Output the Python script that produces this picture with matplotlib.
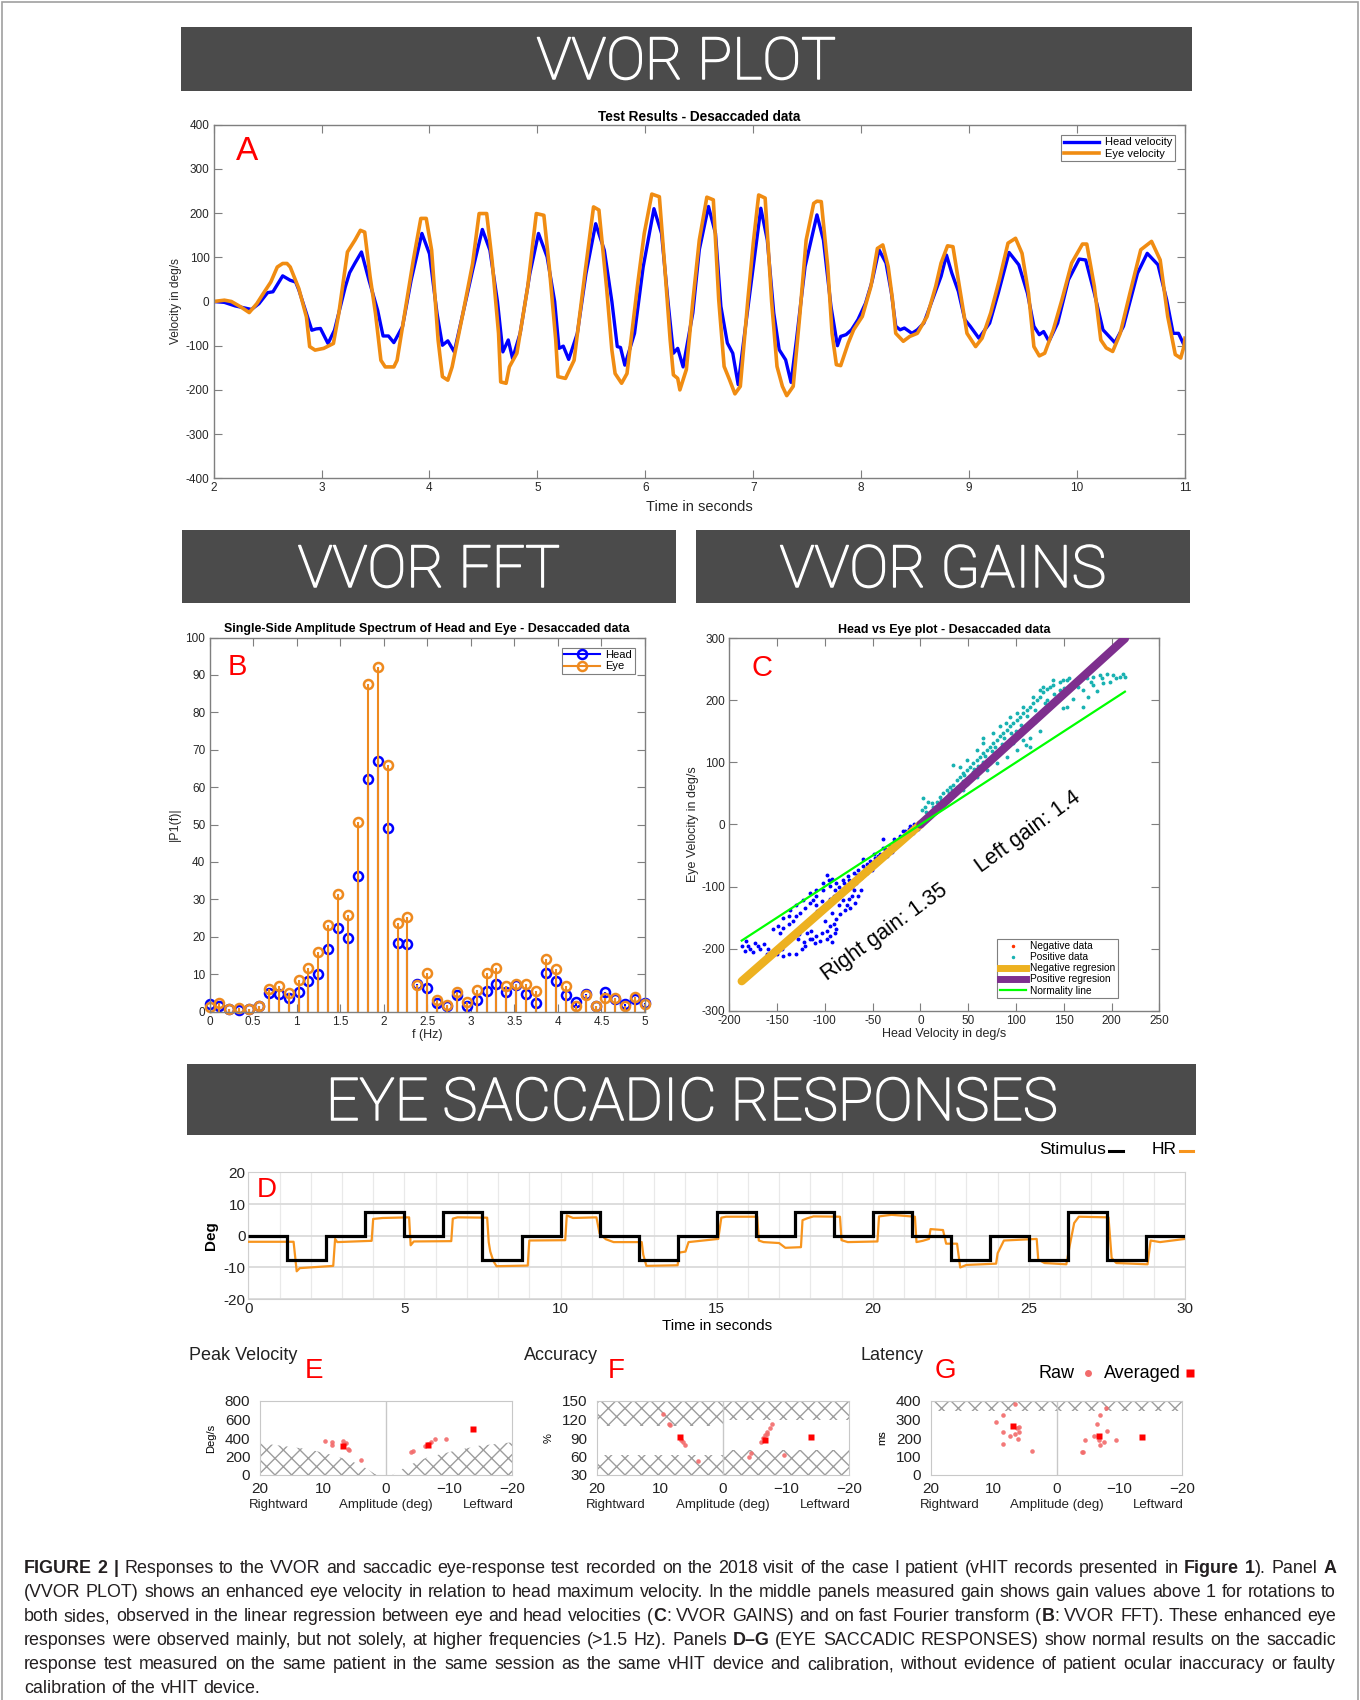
import matplotlib.pyplot as plt
import matplotlib.patheffects as pe
import numpy as np
from matplotlib import font_manager
from matplotlib.lines import Line2D
from matplotlib.patches import Rectangle
from matplotlib.ticker import FormatStrFormatter

W, H = 1360, 1700

# ---------------- VVOR plot: head / eye velocity (deg/s) ----------------
head_t = [2.00, 2.10, 2.20, 2.35, 2.42, 2.50, 2.55, 2.64, 2.71, 2.76, 2.79, 2.86, 2.91, 2.95, 2.99,
          3.06, 3.12, 3.22, 3.26, 3.31, 3.37, 3.44, 3.52, 3.57, 3.62, 3.67, 3.75, 3.83, 3.93, 4.00,
          4.07, 4.12, 4.17, 4.23, 4.31, 4.40, 4.49, 4.56, 4.63, 4.68, 4.73, 4.77, 4.84, 4.93, 5.01,
          5.09, 5.16, 5.20, 5.24, 5.29, 5.37, 5.45, 5.54, 5.62, 5.69, 5.74, 5.77, 5.81, 5.90, 5.98,
          6.08, 6.15, 6.21, 6.26, 6.30, 6.35, 6.44, 6.50, 6.585, 6.65, 6.70, 6.76, 6.81, 6.86, 6.92,
          7.00, 7.07, 7.13, 7.19, 7.24, 7.30, 7.35, 7.40, 7.48, 7.53, 7.59, 7.65, 7.72, 7.78, 7.81,
          7.86, 7.91, 7.97, 8.04, 8.10, 8.165, 8.23, 8.28, 8.32, 8.36, 8.40, 8.47, 8.52, 8.58, 8.66,
          8.74, 8.79, 8.84, 8.90, 8.96, 9.01, 9.09, 9.19, 9.27, 9.37, 9.46, 9.54, 9.60, 9.65, 9.69,
          9.74, 9.82, 9.92, 10.02, 10.08, 10.16, 10.24, 10.35, 10.43, 10.56, 10.65, 10.75, 10.83,
          10.89, 10.94, 10.99, 11.00]
head_v = [0, -2, -10, -18, -5, 20, 22, 58, 48, 44, 26, -27, -65, -62, -61,
          -95, -65, 33, 65, 87, 112, 48, -20, -78, -78, -93, -57, 48, 154, 108,
          -27, -99, -89, -114, -27, 71, 163, 116, 0, -114, -87, -129, -72, 63, 154,
          101, 0, -106, -101, -131, -72, 63, 176, 116, 0, -102, -104, -144, -72, 78,
          210, 154, 0, -117, -106, -148, -26, 117, 215, 154, -11, -94, -117, -188, -72,
          79, 211, 139, -26, -109, -132, -183, -87, 79, 132, 196, 139, -11, -100, -79,
          -75, -64, -41, -4, 45, 117, 87, 19, -56, -64, -60, -72, -64, -49, 4,
          57, 105, 64, 23, -41, -56, -83, -49, 19, 111, 83, 19, -56, -75, -68,
          -90, -49, 49, 96, 94, 19, -64, -93, -56, 64, 109, 83, 4,
          -72, -72, -98, -95]

eye_t = [2.00, 2.10, 2.165, 2.25, 2.33, 2.40, 2.46, 2.53, 2.59, 2.64, 2.68, 2.71, 2.79, 2.86, 2.89,
         2.94, 3.02, 3.11, 3.16, 3.24, 3.31, 3.36, 3.40, 3.45, 3.50, 3.55, 3.59, 3.67, 3.70, 3.79,
         3.85, 3.92, 3.97, 4.02, 4.08, 4.12, 4.17, 4.21, 4.31, 4.40, 4.46, 4.53, 4.58, 4.64, 4.66,
         4.71, 4.74, 4.81, 4.91, 4.99, 5.06, 5.11, 5.17, 5.19, 5.26, 5.34, 5.44, 5.52, 5.57, 5.64,
         5.69, 5.72, 5.78, 5.83, 5.93, 5.99, 6.06, 6.13, 6.18, 6.23, 6.26, 6.30, 6.32, 6.38, 6.44,
         6.50, 6.57, 6.63, 6.68, 6.73, 6.78, 6.83, 6.88, 6.95, 7.00, 7.05, 7.11, 7.17, 7.22, 7.27,
         7.31, 7.37, 7.43, 7.49, 7.56, 7.59, 7.63, 7.69, 7.73, 7.77, 7.81, 7.88, 7.93, 8.01, 8.09,
         8.15, 8.20, 8.25, 8.29, 8.32, 8.39, 8.45, 8.52, 8.61, 8.69, 8.74, 8.80, 8.85, 8.90, 8.98,
         9.06, 9.12, 9.20, 9.28, 9.36, 9.43, 9.49, 9.55, 9.60, 9.65, 9.70, 9.78, 9.86, 9.95, 10.05,
         10.09, 10.16, 10.22, 10.27, 10.33, 10.40, 10.49, 10.59, 10.69, 10.77, 10.84, 10.91, 10.96,
         10.99, 11.00]
eye_v = [0, 3, 0, -12, -25, -5, 18, 44, 78, 86, 86, 78, 29, -35, -102,
         -110, -106, -95, -27, 112, 139, 161, 157, 56, -27, -133, -148, -148, -133, 3,
         93, 188, 188, 116, -87, -170, -178, -148, -27, 86, 199, 199, 93, -72, -182,
         -185, -148, -117, 33, 199, 195, 78, -87, -170, -174, -133, 63, 214, 207, 34,
         -110, -163, -185, -163, 41, 154, 243, 237, 78, -87, -166, -174, -200, -154, 0,
         139, 236, 230, 4, -147, -177, -209, -192, 4, 132, 241, 234, 0, -147, -192,
         -213, -192, -34, 139, 222, 227, 226, 79, -72, -143, -145, -94, -64, -34, 34,
         120, 128, 79, 4, -72, -90, -79, -72, -34, 34, 87, 126, 124, 49, -72,
         -102, -83, -26, 49, 132, 143, 109, 19, -102, -123, -117, -64, 4, 87, 130,
         130, 34, -87, -105, -113, -72, 19, 117, 136, 94, -34, -120, -128,
         -102, -83]

# ---------------- VVOR FFT: single-side amplitude spectrum ----------------
fft_freq = [0.000, 0.114, 0.227, 0.341, 0.455, 0.568, 0.682, 0.795, 0.909, 1.023, 1.136, 1.250,
            1.364, 1.477, 1.591, 1.705, 1.818, 1.932, 2.045, 2.159, 2.273, 2.386, 2.500, 2.614,
            2.727, 2.841, 2.955, 3.068, 3.182, 3.295, 3.409, 3.523, 3.636, 3.750, 3.864, 3.977,
            4.091, 4.205, 4.318, 4.432, 4.545, 4.659, 4.773, 4.886, 5.000]
fft_head = [2.0, 1.5, 0.8, 0.4, 0.8, 1.5, 4.9, 4.6, 3.6, 5.2, 8.2, 10.0, 16.8, 22.4, 19.7,
            36.2, 62.1, 67.0, 49.0, 18.4, 18.0, 7.3, 6.4, 2.4, 1.5, 4.4, 1.5, 3.1, 5.5, 7.3,
            5.2, 7.1, 4.6, 2.4, 10.2, 8.2, 4.4, 2.6, 4.8, 1.5, 5.1, 3.3, 2.0, 3.3, 2.2]
fft_eye = [1.1, 2.2, 0.8, 1.0, 0.8, 1.5, 6.0, 6.8, 4.9, 8.4, 11.6, 15.9, 23.0, 31.5, 25.7,
           50.6, 87.6, 92.1, 65.8, 23.6, 25.4, 7.1, 10.2, 3.0, 1.7, 5.2, 2.6, 5.8, 10.2, 11.6,
           6.8, 7.3, 7.3, 5.5, 14.0, 11.3, 6.7, 1.5, 4.4, 1.5, 3.6, 3.6, 1.5, 4.0, 2.0]

# ---------------- VVOR gains: head vs eye velocity ----------------
neg_head = [-187, -182, -178, -173, -168, -164, -184, -161, -156, -150, -144, -137, -130, -124, -121,
            -147, -144, -138, -133, -130, -126, -121, -116, -112, -109,
            -119, -114, -109, -103, -98, -95, -89, -88, -95, -100, -105, -110, -116,
            -98, -96, -102, -95, -89, -84, -81, -77, -74, -79, -84, -88, -93, -98, -103, -109, -105,
            -88, -81, -76, -70, -65, -60, -56, -53, -48, -42, -37, -32, -27, -21, -16, -11, -7,
            -67, -62, -56, -51, -46, -41, -35, -30, -25, -20, -14, -9, -65, -62, -68, -72,
            -60, -49, -39, -28, -18, -109, -116, -123, -130, -136, -144, -149, -154, -138,
            -5, -3, -12, -8, -39, -30,
            -180, -175, -170, -160, -155, -145, -140, -135, -128, -125, -118, -112, -108, -100,
            -95, -90, -85, -80, -75, -72, -66, -58, -52, -45, -40, -34, -28, -22, -15, -10,
            -92, -98, -90, -85, -70, -75, -60, -50, -44, -113, -122, -127, -102, -93]
neg_eye = [-196, -188, -201, -191, -201, -193, -204, -209, -212, -209, -212, -208, -209, -201, -196,
           -175, -166, -161, -156, -148, -142, -134, -126, -121, -115,
           -175, -172, -180, -175, -172, -180, -175, -169, -164, -156, -188, -191, -185,
           -81, -89, -105, -99, -105, -110, -121, -129, -134, -137, -145, -153, -142, -129, -124, -129, -140,
           -94, -89, -83, -78, -73, -67, -64, -59, -54, -48, -40, -35, -27, -19, -11, -3, 0,
           -94, -86, -78, -73, -64, -56, -51, -43, -35, -24, -19, -11, -115, -105, -126, -115,
           -56, -48, -38, -24, -11, -105, -110, -121, -129, -137, -150, -164, -169, -148,
           -3, -8, -8, -14, -23, -45,
           -195, -205, -196, -200, -205, -200, -190, -180, -185, -170, -160, -150, -140, -130,
           -120, -115, -100, -95, -90, -100, -82, -72, -68, -58, -50, -44, -35, -28, -16, -8,
           -190, -185, -160, -130, -105, -120, -80, -60, -50, -184, -190, -176, -95, -88]

pos_head = [1.3, 4.8, 10, 13.5, 17, 3, 8.2, 20.5, 24, 27.4, 31, 34.4, 32.7, 27.4, 38, 41.4, 44.9,
            48.4, 34.4, 51.8, 55.3, 58.8, 62.3, 65.8, 69.3, 72.8, 76.3, 79.8, 83.2, 86.7, 90.2, 93.7,
            97.2, 100.7, 104.2, 107.7, 111.1, 114.6, 118.1, 121.6, 125.1, 128.6, 132, 135.6, 139, 146,
            153, 160, 167, 174, 181, 188, 195, 202, 209, 214, 191, 198, 160, 153, 149.5, 170.4, 181,
            48.4, 58.8, 69.3, 79.8, 90.2, 100.7, 111, 114.6, 107.7, 97, 83, 72.8, 62.3, 51.8, 41.4,
            44.9, 31, 58.8, 65.8, 76.3, 90, 100.7, 107.7, 118, 128.6, 139, 149.5, 156, 41.4, 48.4,
            65.8, 83.2, 93.7, 125, 146, 132,
            20, 25, 35, 45, 55, 60, 68, 75, 85, 95, 105, 112, 120, 130, 140, 150, 165, 178, 190,
            205, 212, 170, 175, 185, 115, 125, 120, 100, 88, 78, 66, 56, 46, 38, 30, 22, 15, 12, 6]
pos_eye = [23, 29, 18, 29, 37, 42, 37, 45, 50, 56, 61, 64, 56, 45, 72, 77, 83,
           88, 96, 93, 99, 104, 109, 115, 120, 125, 131, 136, 142, 147, 152, 158,
           163, 168, 174, 179, 184, 190, 195, 201, 206, 214, 219, 222, 225, 230,
           233, 228, 233, 236, 238, 241, 243, 241, 238, 238, 228, 230, 203, 190, 187, 217, 225,
           66, 77, 88, 99, 109, 120, 128, 125, 136, 131, 115, 99, 88, 77, 61,
           56, 45, 120, 131, 147, 163, 179, 190, 206, 222, 233, 233, 236, 93, 104,
           139, 158, 174, 217, 217, 201,
           30, 38, 52, 70, 85, 95, 110, 118, 130, 148, 160, 175, 185, 195, 210, 220, 222, 230, 236,
           236, 243, 190, 205, 215, 140, 150, 165, 150, 140, 125, 100, 90, 80, 60, 50, 40, 25, 35, 20]

right_gain = 1.35
left_gain = 1.4

# ---------------- Saccade test: stimulus and head response (deg) ----------------
stim_edges = [0, 1.25, 2.5, 3.75, 5, 6.25, 7.5, 8.75, 10, 11.25, 12.5, 13.75, 15, 16.25, 17.5,
              18.75, 20, 21.25, 22.5, 23.75, 25, 26.25, 27.5, 28.75, 30]
stim_level = [0, -7.5, 0, 7.5, 0, 7.5, -7.5, 0, 7.5, 0, -7.5, 0, 7.5, 0, 7.5, 0, 7.5, 0,
              -7.5, 0, -7.5, 7.5, -7.5, 0]
hr_t = [0, 1.45, 1.55, 1.65, 2.72, 2.78, 2.85, 3.95, 4.0, 4.3, 5.15, 5.2, 5.3, 6.5, 6.55, 6.7,
        7.65, 7.7, 7.75, 7.85, 7.95, 8.95, 9.0, 10.15, 10.2, 10.4, 11.15, 11.25, 11.45, 11.7,
        12.6, 12.65, 12.75, 13.75, 13.8, 14.0, 14.1, 15.05, 15.15, 15.3, 16.3, 16.35, 16.5, 17.0,
        17.2, 17.7, 17.75, 17.9, 18.1, 18.95, 19.0, 19.2, 20.15, 20.2, 20.6, 21.35, 21.4, 21.6,
        21.8, 21.85, 22.25, 22.35, 22.7, 22.8, 23.0, 23.95, 24.0, 24.2, 25.25, 25.3, 25.5, 26.2,
        26.3, 26.45, 26.6, 27.55, 27.65, 27.8, 28.8, 28.9, 29.2, 30]
hr_v = [-1.9, -1.9, -11.2, -10.2, -9.5, -1.0, -2.0, -1.6, 5.3, 5.6, 5.8, -3.0, -1.8, -1.7, 5.4, 5.8,
        5.7, -2.0, -5.0, -8.0, -9.6, -9.4, -1.5, -1.4, 6.4, 5.6, 5.8, 0.7, -1.1, -2.0,
        -2.0, -6.0, -9.5, -9.3, -5.3, -5.0, -2.0, -1.0, 5.7, 6.0, 6.0, -1.5, -2.0, -2.3,
        -3.8, -3.6, 4.9, 5.5, 6.1, 6.0, -1.4, -2.0, -1.8, 6.1, 6.6, 6.0, -2.0, -1.6,
        -1.0, 2.1, 1.8, -2.5, -2.5, -10.0, -9.2, -8.8, -5.5, -1.5, -1.0, -7.5, -8.6, -9.0,
        -3.5, 4.0, 6.0, 5.8, -7.0, -8.6, -9.0, -1.5, -2.0, -1.0]

# ---------------- Saccade metrics vs amplitude ----------------
pv_raw_amp = [9.7, 8.5, 8.5, 6.8, 6.6, 6.3, 6.1, 5.9, 3.9, -3.9, -4.3, -6.2, -7.2, -7.8, -9.6, -6.6]
pv_raw_val = [371, 360, 327, 371, 335, 342, 280, 269, 164, 247, 255, 316, 356, 385, 389, 335]
pv_avg_amp = [6.8, -6.6, -13.8]
pv_avg_val = [309, 327, 495]
pv_floor_right_amp = [20, 12.4, 8.0, 4.2, 1.5]
pv_floor_right_val = [345, 280, 207, 116, 0]
pv_floor_left_amp = [-1.0, -3.4, -6.5, -10.9, -14.7, -20]
pv_floor_left_val = [0, 98, 189, 262, 316, 353]

acc_raw_amp = [9.6, 8.5, 8.4, 6.9, 6.6, 6.3, 6.0, 3.9, -4.2, -4.5, -6.1, -6.4, -6.7, -7.0, -7.5, -7.8,
               -7.0, -9.7]
acc_raw_val = [129, 113, 111, 91, 87, 83, 79, 52, 60, 65, 84, 90, 95, 100, 107, 112, 97, 63]
acc_avg_amp = [6.9, -6.7, -13.9]
acc_avg_val = [92, 87, 92]
acc_limits_right = (63, 109)   # normal band, rightward saccades (%)
acc_limits_left = (70, 119)    # normal band, leftward saccades (%)

lat_raw_amp = [6.6, 8.5, 9.7, 5.9, 6.3, 8.6, 5.9, 6.6, 7.4, 6.2, 8.5, 3.9,
               -7.9, -7.0, -6.4, -8.1, -5.9, -4.6, -6.8, -7.6, -9.5, -7.0, -4.0, -4.3]
lat_raw_val = [382, 322, 284, 258, 255, 231, 231, 222, 211, 195, 165, 131,
               364, 324, 276, 236, 211, 191, 191, 178, 191, 160, 127, 127]
lat_avg_amp = [7.0, -6.7, -13.7]
lat_avg_val = [264, 213, 207]
lat_limit = 344

# ---------------- fonts and colours ----------------
installed = {f.name for f in font_manager.fontManager.ttflist}
NARROW = 'Liberation Sans Narrow' if 'Liberation Sans Narrow' in installed else 'Liberation Sans'
NARROW_LIST = [NARROW, 'DejaVu Sans']
HEADER_FONT = ['Roboto', 'DejaVu Sans'] if 'Roboto' in installed else ['DejaVu Sans']

plt.rcParams['font.family'] = ['Liberation Sans', 'DejaVu Sans']
plt.rcParams['axes.unicode_minus'] = False
plt.rcParams['hatch.linewidth'] = 1.0
plt.rcParams['hatch.color'] = '#9d9d9d'

HEAD_BLUE = '#0000FF'
EYE_ORANGE = '#F08C12'
FFT_ORANGE = '#EE8A1F'
MATLAB_GREY = '#7f7f7f'
TEXT_DARK = '#262626'

fig = plt.figure(figsize=(W / 100, H / 100), dpi=100)


def fx(x):
    return x / W


def fy(y):
    return 1 - y / H


def frac_box(x0, y0, x1, y1):
    return [x0 / W, 1 - y1 / H, (x1 - x0) / W, (y1 - y0) / H]


def header(x0, y0, x1, y1, label, size, baseline):
    fig.add_artist(Rectangle((fx(x0), fy(y1)), (x1 - x0) / W, (y1 - y0) / H,
                             transform=fig.transFigure, facecolor='#4b4b4b', edgecolor='none'))
    fig.text(fx((x0 + x1) / 2), fy(baseline), label, color='white', fontsize=size,
             family=HEADER_FONT, fontweight='light', ha='center', va='baseline',
             path_effects=[pe.withStroke(linewidth=1.1, foreground='white')])


def matlab_style(ax):
    for sp in ax.spines.values():
        sp.set_color(MATLAB_GREY)
        sp.set_linewidth(1.0)
    ax.tick_params(direction='in', top=True, right=True, length=6, width=0.8,
                   color=MATLAB_GREY, labelsize=8.5, labelcolor=TEXT_DARK, pad=3)


leg_kw = dict(fontsize=8, frameon=True, fancybox=False, edgecolor=MATLAB_GREY, framealpha=1,
              borderpad=0.25, labelspacing=0.1, handlelength=3.2, handletextpad=0.5)

# outer frame
fig.add_artist(Rectangle((fx(2), fy(1705)), 1356 / W, 1703 / H, transform=fig.transFigure,
                         fill=False, edgecolor='#a0a0a0', lw=1.2))

# ---------------- headers ----------------
header(181, 27, 1192, 91, 'VVOR PLOT', 42, 79)
header(182, 530, 676, 603, 'VVOR FFT', 42, 587)
header(696, 530, 1190, 603, 'VVOR GAINS', 42, 587)
header(187, 1064, 1196, 1135, 'EYE SACCADIC RESPONSES', 42.5, 1120)

# ---------------- A: velocity traces ----------------
axA = fig.add_axes(frac_box(213.6, 124.7, 1185, 478.3))
axA.plot(head_t, head_v, color=HEAD_BLUE, lw=2.4, label='Head velocity')
axA.plot(eye_t, eye_v, color=EYE_ORANGE, lw=2.6, label='Eye velocity')
axA.set_xlim(2, 11)
axA.set_ylim(-400, 400)
axA.set_xticks(range(2, 12))
axA.set_yticks(range(-400, 401, 100))
matlab_style(axA)
axA.set_title('Test Results - Desaccaded data', fontsize=9.8, fontweight='bold', pad=3)
axA.set_xlabel('Time in seconds', fontsize=10.5, labelpad=4, color=TEXT_DARK)
axA.set_ylabel('Velocity in deg/s', fontsize=8.6, labelpad=3, color=TEXT_DARK)
legA = axA.legend(loc='upper right', borderaxespad=0.9, **leg_kw)
legA.get_frame().set_linewidth(0.8)
axA.text(0.034, 0.923, 'A', transform=axA.transAxes, color='red', fontsize=24,
         ha='center', va='center')

# ---------------- B: FFT stems ----------------
axB = fig.add_axes(frac_box(209.5, 637.5, 645, 1011.5))
axB.vlines(fft_freq, 0, fft_head, color=HEAD_BLUE, lw=1.5)
axB.plot(fft_freq, fft_head, 'o', mfc='none', mec=HEAD_BLUE, mew=1.8, ms=6.5, clip_on=False)
axB.vlines(fft_freq, 0, fft_eye, color=FFT_ORANGE, lw=1.5)
axB.plot(fft_freq, fft_eye, 'o', mfc='none', mec=FFT_ORANGE, mew=1.8, ms=6.5, clip_on=False)
axB.set_xlim(0, 5)
axB.set_ylim(0, 100)
axB.set_xticks(np.arange(0, 5.01, 0.5))
axB.set_yticks(range(0, 101, 10))
axB.xaxis.set_major_formatter(FormatStrFormatter('%g'))
matlab_style(axB)
axB.set_title('Single-Side Amplitude Spectrum of Head and Eye - Desaccaded data',
              fontsize=8.9, fontweight='bold', pad=4)
axB.set_xlabel('f (Hz)', fontsize=9, labelpad=1, color=TEXT_DARK)
axB.set_ylabel('|P1(f)|', fontsize=9, labelpad=3, color=TEXT_DARK)
b_handles = [Line2D([], [], color=HEAD_BLUE, lw=1.5, marker='o', mfc='none', mew=1.8, ms=6.5),
             Line2D([], [], color=FFT_ORANGE, lw=1.5, marker='o', mfc='none', mew=1.8, ms=6.5)]
legB = axB.legend(b_handles, ['Head', 'Eye'], loc='upper right', borderaxespad=0.9, **leg_kw)
legB.get_frame().set_linewidth(0.8)
axB.text(0.065, 0.92, 'B', transform=axB.transAxes, color='red', fontsize=21,
         ha='center', va='center')

# ---------------- C: head vs eye scatter ----------------
axC = fig.add_axes(frac_box(729.3, 638.3, 1159.3, 1010.7))
axC.plot(neg_head, neg_eye, '.', color=HEAD_BLUE, ms=3.6, zorder=2)
axC.plot(pos_head, pos_eye, '.', color='#19B2B2', ms=3.6, zorder=2)
neg_x = np.array([min(neg_head), 0])
pos_x = np.array([0, max(pos_head)])
norm_x = np.array([min(neg_head), max(pos_head)])
axC.plot(neg_x, right_gain * neg_x, color='#EDB120', lw=6, solid_capstyle='round', zorder=3)
axC.plot(pos_x, left_gain * pos_x, color='#7E2F8E', lw=6, solid_capstyle='round', zorder=3)
axC.plot(norm_x, norm_x, color='#00FF00', lw=1.6, zorder=4)
axC.set_xlim(-200, 250)
axC.set_ylim(-300, 300)
axC.set_xticks(range(-200, 251, 50))
axC.set_yticks(range(-300, 301, 100))
matlab_style(axC)
axC.set_title('Head vs Eye plot - Desaccaded data', fontsize=8.9, fontweight='bold', pad=4)
axC.set_xlabel('Head Velocity in deg/s', fontsize=9, labelpad=1, color=TEXT_DARK)
axC.set_ylabel('Eye Velocity in deg/s', fontsize=9, labelpad=2, color=TEXT_DARK)
axC.text(-37, -173, 'Right gain: %g' % right_gain, rotation=36, fontsize=15.5,
         ha='center', va='center', rotation_mode='anchor')
axC.text(113, -12, 'Left gain: %g' % left_gain, rotation=36, fontsize=15.5,
         ha='center', va='center', rotation_mode='anchor')
c_handles = [Line2D([], [], ls='none', marker='.', color='#FF3300', ms=3),
             Line2D([], [], ls='none', marker='.', color='#19B2B2', ms=3),
             Line2D([], [], color='#EDB120', lw=5),
             Line2D([], [], color='#7E2F8E', lw=5),
             Line2D([], [], color='#00FF00', lw=1.6)]
c_leg_kw = dict(leg_kw, fontsize=7.3, handlelength=2.6, handletextpad=0.4)
legC = axC.legend(c_handles, ['Negative data', 'Positive data', 'Negative regresion',
                              'Positive regresion', 'Normality line'],
                  loc='lower right', bbox_to_anchor=(0.904, 0.034), borderaxespad=0, **c_leg_kw)
legC.get_frame().set_linewidth(0.8)
axC.text(0.075, 0.92, 'C', transform=axC.transAxes, color='red', fontsize=21,
         ha='center', va='center')

# ---------------- D: saccade stimulus and response ----------------
axD = fig.add_axes(frac_box(248.3, 1172.3, 1185, 1299.2))
axD.plot(hr_t, hr_v, color='#F7941D', lw=1.6, zorder=3)
axD.stairs(stim_level, stim_edges, baseline=None, color='black', lw=2.3, zorder=4)
axD.set_xlim(0, 30)
axD.set_ylim(-20, 20)
axD.set_xticks(range(0, 31, 5))
axD.set_xticks(range(0, 31), minor=True)
axD.set_yticks(range(-20, 21, 10))
axD.grid(which='both', axis='x', color='#e9e9e9', lw=0.9, zorder=0)
axD.grid(which='major', axis='y', color='#dadada', lw=1.3, zorder=0)
axD.tick_params(which='both', length=0, labelsize=11, labelcolor='#222222', pad=2)
for lab in axD.get_xticklabels() + axD.get_yticklabels():
    lab.set_fontfamily(NARROW_LIST)
for sp in axD.spines.values():
    sp.set_color('#d0d0d0')
axD.set_xlabel('Time in seconds', fontsize=11, family=NARROW_LIST, labelpad=2)
axD.set_ylabel('Deg', fontsize=11, fontweight='bold', labelpad=4)
axD.text(0.02, 0.86, 'D', transform=axD.transAxes, color='red', fontsize=20,
         family=NARROW_LIST, ha='center', va='center')

fig.text(fx(1106), fy(1150), 'Stimulus', fontsize=12.5, family=NARROW_LIST, ha='right', va='center')
fig.add_artist(Line2D([fx(1109), fx(1123)], [fy(1151), fy(1151)], color='black', lw=2.2,
                      transform=fig.transFigure))
fig.text(fx(1177), fy(1150), 'HR', fontsize=12.5, family=NARROW_LIST, ha='right', va='center')
fig.add_artist(Line2D([fx(1180), fx(1193)], [fy(1151), fy(1151)], color='#F7941D', lw=2.2,
                      transform=fig.transFigure))


# ---------------- E, F, G: saccade metrics ----------------
def saccade_axes(rect, ylim, yticks, ylabel, title, title_x, letter, letter_x):
    ax = fig.add_axes(rect)
    ax.set_xlim(20, -20)
    ax.set_ylim(*ylim)
    ax.set_xticks([20, 10, 0, -10, -20])
    ax.set_xticklabels(['20', '10', '0', '\u221210', '\u221220'])
    ax.set_yticks(yticks)
    ax.tick_params(length=0, labelsize=11, labelcolor='#222222')
    ax.tick_params(axis='x', pad=5)
    ax.tick_params(axis='y', pad=7)
    for lab in ax.get_xticklabels() + ax.get_yticklabels():
        lab.set_fontfamily(NARROW_LIST)
    for sp in ax.spines.values():
        sp.set_color('#c8c8c8')
    ax.axvline(0, color='#c8c8c8', lw=1, zorder=1)
    ax.set_ylabel(ylabel, fontsize=8, labelpad=6)
    tr = ax.get_xaxis_transform()
    for amp, txt in [(17, 'Rightward'), (0, 'Amplitude (deg)'), (-16.3, 'Leftward')]:
        ax.text(amp, -0.41, txt, transform=tr, ha='center', va='center', fontsize=9.5,
                family=NARROW_LIST, color='#222222')
    fig.text(fx(title_x), fy(1356), title, fontsize=13, family=NARROW_LIST,
             ha='left', va='center', color='#222222')
    fig.text(fx(letter_x), fy(1371), letter, fontsize=20, family=NARROW_LIST,
             color='red', ha='center', va='center')
    return ax


def hatch_fill(ax, x, lo, hi):
    ax.fill_between(x, lo, hi, hatch='xx', facecolor='none', edgecolor='#9d9d9d',
                    linewidth=0, zorder=0)


def metric_points(ax, raw_amp, raw_val, avg_amp, avg_val):
    ax.plot(raw_amp, raw_val, 'o', color='#F26B6B', mec='none', ms=3.3, alpha=0.9, zorder=3)
    ax.plot(avg_amp, avg_val, 's', color='#FF0000', mec='none', ms=5, zorder=4)


axE = saccade_axes(frac_box(260, 1401, 512, 1475), (0, 800), range(0, 801, 200), 'Deg/s',
                   'Peak Velocity', 189, 'E', 314)
hatch_fill(axE, pv_floor_right_amp, 0, pv_floor_right_val)
hatch_fill(axE, pv_floor_left_amp, 0, pv_floor_left_val)
metric_points(axE, pv_raw_amp, pv_raw_val, pv_avg_amp, pv_avg_val)

axF = saccade_axes(frac_box(597, 1401, 849, 1475), (30, 150), range(30, 151, 30), '%',
                   'Accuracy', 524, 'F', 616)
hatch_fill(axF, [20, 0], acc_limits_right[1], 150)
hatch_fill(axF, [0, -20], acc_limits_left[1], 150)
hatch_fill(axF, [20, 0], 30, acc_limits_right[0])
hatch_fill(axF, [0, -20], 30, acc_limits_left[0])
metric_points(axF, acc_raw_amp, acc_raw_val, acc_avg_amp, acc_avg_val)

axG = saccade_axes(frac_box(931, 1401, 1182, 1475), (0, 400), range(0, 401, 100), 'ms',
                   'Latency', 860, 'G', 945)
hatch_fill(axG, [20, -20], lat_limit, 400)
metric_points(axG, lat_raw_amp, lat_raw_val, lat_avg_amp, lat_avg_val)

fig.text(fx(1074), fy(1373), 'Raw', fontsize=13, family=NARROW_LIST, ha='right', va='center')
fig.add_artist(Line2D([fx(1088)], [fy(1373)], ls='none', marker='o', color='#F26B6B',
                      mec='none', ms=5, transform=fig.transFigure))
fig.text(fx(1181), fy(1373), 'Averaged', fontsize=13, family=NARROW_LIST, ha='right', va='center')
fig.add_artist(Line2D([fx(1190)], [fy(1373)], ls='none', marker='s', color='#FF0000',
                      mec='none', ms=5.5, transform=fig.transFigure))

# ---------------- caption ----------------
caption_lines = [
    [('FIGURE 2 |', True),
     (' Responses to the VVOR and saccadic eye-response test recorded on the 2018 visit of the '
      'case I patient (vHIT records presented in ', False),
     ('Figure 1', True), ('). Panel ', False), ('A', True)],
    [('(VVOR PLOT) shows an enhanced eye velocity in relation to head maximum velocity. In the '
      'middle panels measured gain shows gain values above 1 for rotations to', False)],
    [('both sides, observed in the linear regression between eye and head velocities (', False),
     ('C', True), (': VVOR GAINS) and on fast Fourier transform (', False), ('B', True),
     (': VVOR FFT). These enhanced eye', False)],
    [('responses were observed mainly, but not solely, at higher frequencies (>1.5 Hz). Panels ',
      False), ('D\u2013G', True),
     (' (EYE SACCADIC RESPONSES) show normal results on the saccadic', False)],
    [('response test measured on the same patient in the same session as the same vHIT device '
      'and calibration, without evidence of patient ocular inaccuracy or faulty', False)],
    [('calibration of the vHIT device.', False)],
]
caption_baselines = [1573, 1597, 1621, 1645, 1669, 1693]
CAP_X0, CAP_X1 = 24, 1336
CAP_FONT = [NARROW, 'DejaVu Sans']
renderer = fig.canvas.get_renderer()


def frag_width(s, bold, size):
    t = fig.text(0, 0, s, fontsize=size, fontweight='bold' if bold else 'normal', family=CAP_FONT)
    w = t.get_window_extent(renderer).width
    t.remove()
    return w


def split_words(pieces):
    words = [[]]
    for s, bold in pieces:
        for i, part in enumerate(s.split(' ')):
            if i > 0:
                words.append([])
            if part:
                words[-1].append((part, bold))
    return [w for w in words if w]


def word_width(word, size):
    return sum(frag_width(p, b, size) for p, b in word)


def space_width(size):
    return frag_width('a a', False, size) - frag_width('aa', False, size)


caption_words = [split_words(line) for line in caption_lines]
base = 12.0
sp0 = space_width(base)
widest = max(sum(word_width(w, base) for w in ws) + sp0 * (len(ws) - 1) for ws in caption_words)
cap_size = base * (CAP_X1 - CAP_X0) / widest * 0.995
space = space_width(cap_size)

for k, (ws, yb) in enumerate(zip(caption_words, caption_baselines)):
    widths = [word_width(w, cap_size) for w in ws]
    if k < len(caption_words) - 1 and len(ws) > 1:
        gap = (CAP_X1 - CAP_X0 - sum(widths)) / (len(ws) - 1)
    else:
        gap = space
    x = CAP_X0
    for w, ww in zip(ws, widths):
        xf = x
        for p, b in w:
            fig.text(fx(xf), fy(yb), p, fontsize=cap_size, family=CAP_FONT,
                     fontweight='bold' if b else 'normal', ha='left', va='baseline',
                     color='#231f20')
            xf += frag_width(p, b, cap_size)
        x += ww + gap

fig.savefig('out.png', dpi=100)
